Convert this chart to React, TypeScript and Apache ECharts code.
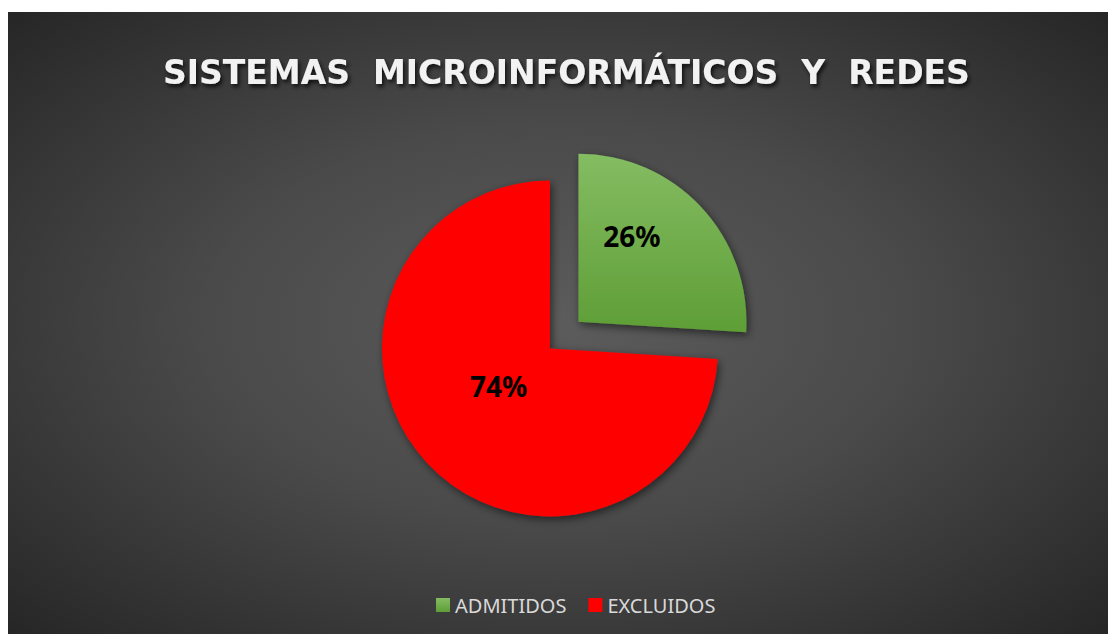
import React, { useEffect, useRef } from "react";
import * as echarts from "echarts";

const title = "SISTEMAS  MICROINFORMÁTICOS  Y  REDES";
const categories = ["ADMITIDOS", "EXCLUIDOS"];
const values = [26, 74];
const labels = ["26%", "74%"];

const sliceColors = [
  new echarts.graphic.LinearGradient(0, 0, 0, 1, [
    { offset: 0, color: "#84bc62" },
    { offset: 1, color: "#5e9e36" },
  ]),
  "#ff0000",
];
const labelShift = [
  { dx: -10, dy: -26 },
  { dx: 12, dy: -22 },
];

export default function App() {
  const ref = useRef<HTMLDivElement>(null);
  useEffect(() => {
    if (!ref.current) return;
    const chart = echarts.init(ref.current, null, { renderer: "svg" });
    chart.setOption({
      animation: false,
      title: {
        text: title,
        left: 150,
        top: 39,
        textStyle: {
          fontFamily: "DejaVu Sans",
          fontWeight: "bold",
          fontSize: 33,
          color: "#f2f2f2",
          textShadowColor: "rgba(0,0,0,0.75)",
          textShadowBlur: 4,
          textShadowOffsetX: 2,
          textShadowOffsetY: 3,
        },
      },
      legend: {
        bottom: 14,
        left: 423,
        icon: "rect",
        itemWidth: 14,
        itemHeight: 14,
        itemGap: 22,
        selectedMode: false,
        textStyle: { fontFamily: "Noto Sans", fontSize: 20, color: "#d9d9d9" },
        data: categories,
      },
      series: [
        {
          type: "pie",
          center: [542, 336.5],
          radius: 168,
          startAngle: 90,
          clockwise: true,
          selectedMode: "single",
          selectedOffset: 39,
          emphasis: { disabled: true },
          itemStyle: {
            shadowBlur: 8,
            shadowColor: "rgba(0,0,0,0.55)",
            shadowOffsetX: 2,
            shadowOffsetY: 3,
          },
          label: {
            show: true,
            position: "inside",
            formatter: (p: any) => labels[p.dataIndex],
            fontFamily: "Noto Sans",
            fontWeight: "bold",
            fontSize: 28,
            color: "#000",
          },
          labelLine: { show: false },
          labelLayout: (p: any) => labelShift[p.dataIndex],
          data: categories.map((name, i) => ({
            name,
            value: values[i],
            selected: i === 0,
            itemStyle: { color: sliceColors[i] },
          })),
        },
      ],
    });
    return () => chart.dispose();
  }, []);
  return (
    <div
      ref={ref}
      style={{
        position: "absolute",
        left: 8,
        top: 12,
        width: 1100,
        height: 622,
        background: "radial-gradient(ellipse at 50% 50%, #5c5c5c 0%, #4a4a4a 45%, #262626 100%)",
      }}
    />
  );
}
